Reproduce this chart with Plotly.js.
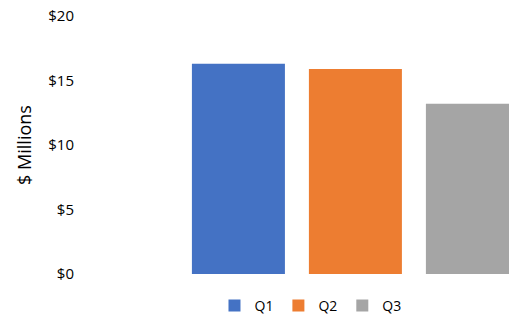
<!DOCTYPE html>
<html>
<head>
<meta charset="utf-8">
<script src="https://cdn.plot.ly/plotly-3.0.1.min.js"></script>
<style>html,body{margin:0;padding:0;background:#fff;}#chart{width:509px;height:322px;}</style>
</head>
<body>
<div id="chart"></div>
<script>
const category = ['Revenue'];
const seriesNames = ['Q1', 'Q2', 'Q3'];
const q1 = [16.3];
const q2 = [15.9];
const q3 = [13.2];
const yTicks = [0, 5, 10, 15, 20];
const yTickText = ['$0', '$5', '$10', '$15', '$20'];
const colors = ['#4472C4', '#ED7D31', '#A5A5A5'];

const values = [q1, q2, q3];
const traces = seriesNames.map((n, i) => ({
  type: 'bar', name: n, x: category, y: values[i],
  marker: {color: colors[i]}, hoverinfo: 'skip'
}));

const fam = '"Open Sans", sans-serif';
const layout = {
  width: 509, height: 322,
  margin: {l: 85, r: 0, t: 16, b: 48},
  paper_bgcolor: '#fff', plot_bgcolor: '#fff',
  font: {family: fam, size: 15, color: '#000'},
  barmode: 'group', bargap: 0.351, bargroupgap: 0.205,
  showlegend: true,
  legend: {orientation: 'h', xref: 'container', yref: 'container', x: 0.61, xanchor: 'center',
           y: 0.0, yanchor: 'bottom', borderwidth: 0, bgcolor: 'rgba(0,0,0,0)',
           font: {family: fam, size: 14, color: '#000'}, itemwidth: 30, tracegroupgap: 0},
  xaxis: {range: [-0.5, 0.284], showticklabels: false, showgrid: false, zeroline: false,
          showline: false, ticks: '', fixedrange: true},
  yaxis: {range: [0, 20], tickvals: yTicks, ticktext: yTickText, showgrid: false,
          zeroline: false, showline: false, ticks: '', ticklabelstandoff: 10,
          title: {text: '$ Millions', font: {family: fam, size: 18, color: '#000'}, standoff: 11}}
};
Plotly.newPlot('chart', traces, layout, {displayModeBar: false, staticPlot: true});
</script>
</body>
</html>
